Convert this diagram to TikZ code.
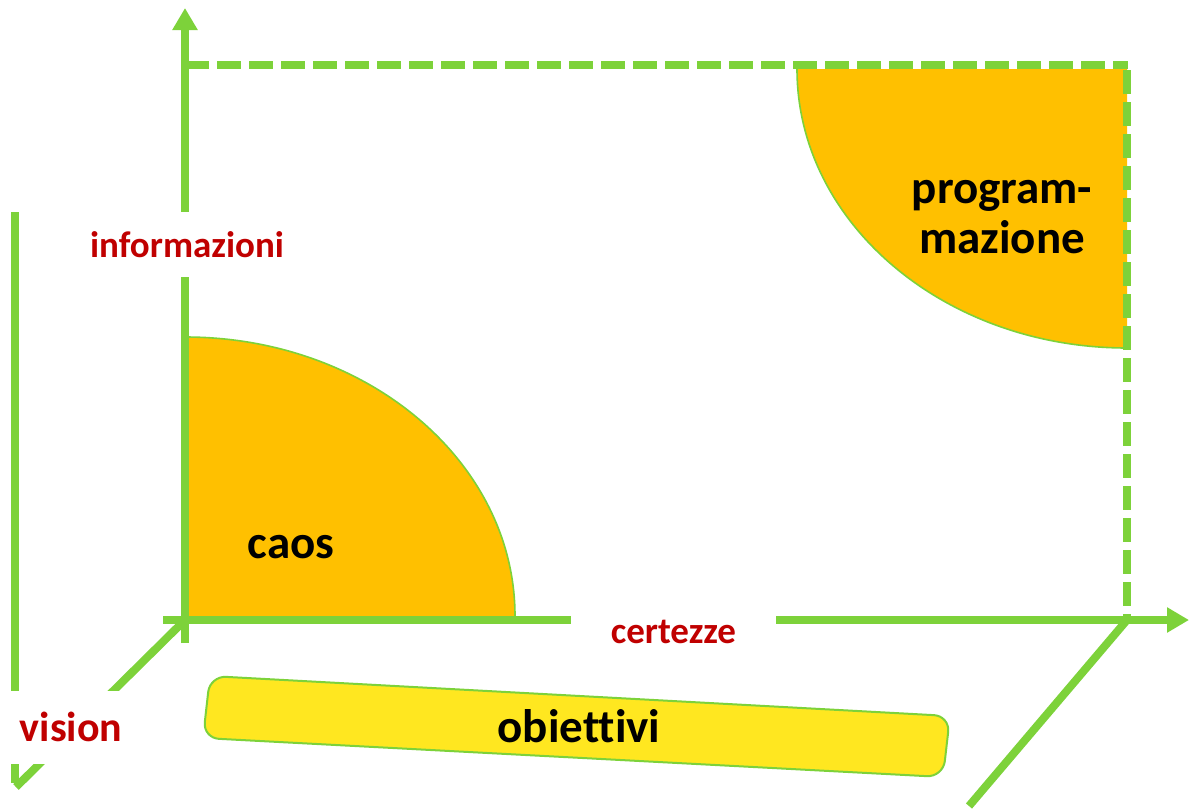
\documentclass[tikz,border=0pt]{standalone}
\usepackage{fontspec}
\setmainfont[Ligatures=CommonOff]{Carlito}
\usetikzlibrary{arrows.meta}
\definecolor{axisgreen}{RGB}{125,210,58}
\definecolor{quartfill}{RGB}{255,192,0}
\definecolor{goalfill}{RGB}{255,231,32}
\definecolor{labred}{RGB}{192,0,0}
\tikzset{
  axisline/.style={draw=axisgreen, line width=4pt},
  axisarrow/.style={axisline, -{Triangle[length=11pt,width=12pt]}},
  guideline/.style={draw=axisgreen, line width=4pt, dash pattern=on 12pt off 4pt},
  quartarea/.style={fill=quartfill},
  quartedge/.style={draw=axisgreen, line width=0.8pt},
  axlabel/.style={font=\bfseries\fontsize{18.5}{22}\selectfont, text=labred, fill=white, inner sep=0pt},
  biglabel/.style={font=\bfseries\fontsize{23.5}{25}\selectfont, text=black, inner sep=0pt},
  goalbox/.style={fill=goalfill, draw=axisgreen, line width=1pt, rounded corners=8pt},
}
\begin{document}
\begin{tikzpicture}[x=0.5pt,y=-0.5pt]
\useasboundingbox (0,0) rectangle (1189,809);
% quarter areas
\fill[quartarea] (185,616) -- (515,616) arc[start angle=0,end angle=90,x radius=165pt,y radius=139.5pt] -- cycle;
\draw[quartedge] (515,616) arc[start angle=0,end angle=90,x radius=165pt,y radius=139.5pt];
\fill[quartarea] (1127,69) -- (797,69) arc[start angle=180,end angle=270,x radius=165pt,y radius=139.5pt] -- cycle;
\draw[quartedge] (797,69) arc[start angle=180,end angle=270,x radius=165pt,y radius=139.5pt];
% corner coordinates
\coordinate (O) at (185,620);
\coordinate (Xend) at (1189,620);
\coordinate (Xstart) at (163,620);
\coordinate (Ybot) at (185,643);
\coordinate (Yend) at (185,8);
\coordinate (TL) at (185,65);
\coordinate (TR) at (1128,65);
\coordinate (RT) at (1127,70);
\coordinate (RB) at (1127,620);
\coordinate (Vtop) at (15,212);
\coordinate (Vbot) at (15,783);
\coordinate (Vtip) at (16,787);
\coordinate (Dend) at (969,806);
% dashed guides
\draw[guideline] (TL) -- (TR);
\draw[guideline] (RT) -- (RB);
% axes
\draw[axisarrow] (Ybot) -- (Yend);
\draw[axisarrow] (Xstart) -- (Xend);
\draw[axisline] (Vtop) -- (Vbot);
\draw[axisline] (O) -- (Vtip);
\draw[axisline] (RB) -- (Dend);
% goal box
\draw[goalbox] (210,676) -- (950,716) -- (943,777) -- (203,738) -- cycle;
% labels
\node[axlabel, minimum width=100pt, minimum height=32.5pt] (info) at (187,244.5) {informazioni};
\node[axlabel, minimum width=102.5pt, minimum height=25pt] (cert) at (673.5,632) {certezze};
\node[axlabel, font=\bfseries\fontsize{21}{24}\selectfont, minimum width=63pt, minimum height=36.5pt] (vision) at (71,727) {vision};
\node[biglabel, anchor=base] (caos) at (291,558) {caos};
\node[biglabel, anchor=base] (goal) at (579,742) {obiettivi};
\node[biglabel, anchor=base] (prog1) at (1002,203) {program-};
\node[biglabel, anchor=base] (prog2) at (1002,253) {mazione};
\end{tikzpicture}
\end{document}
